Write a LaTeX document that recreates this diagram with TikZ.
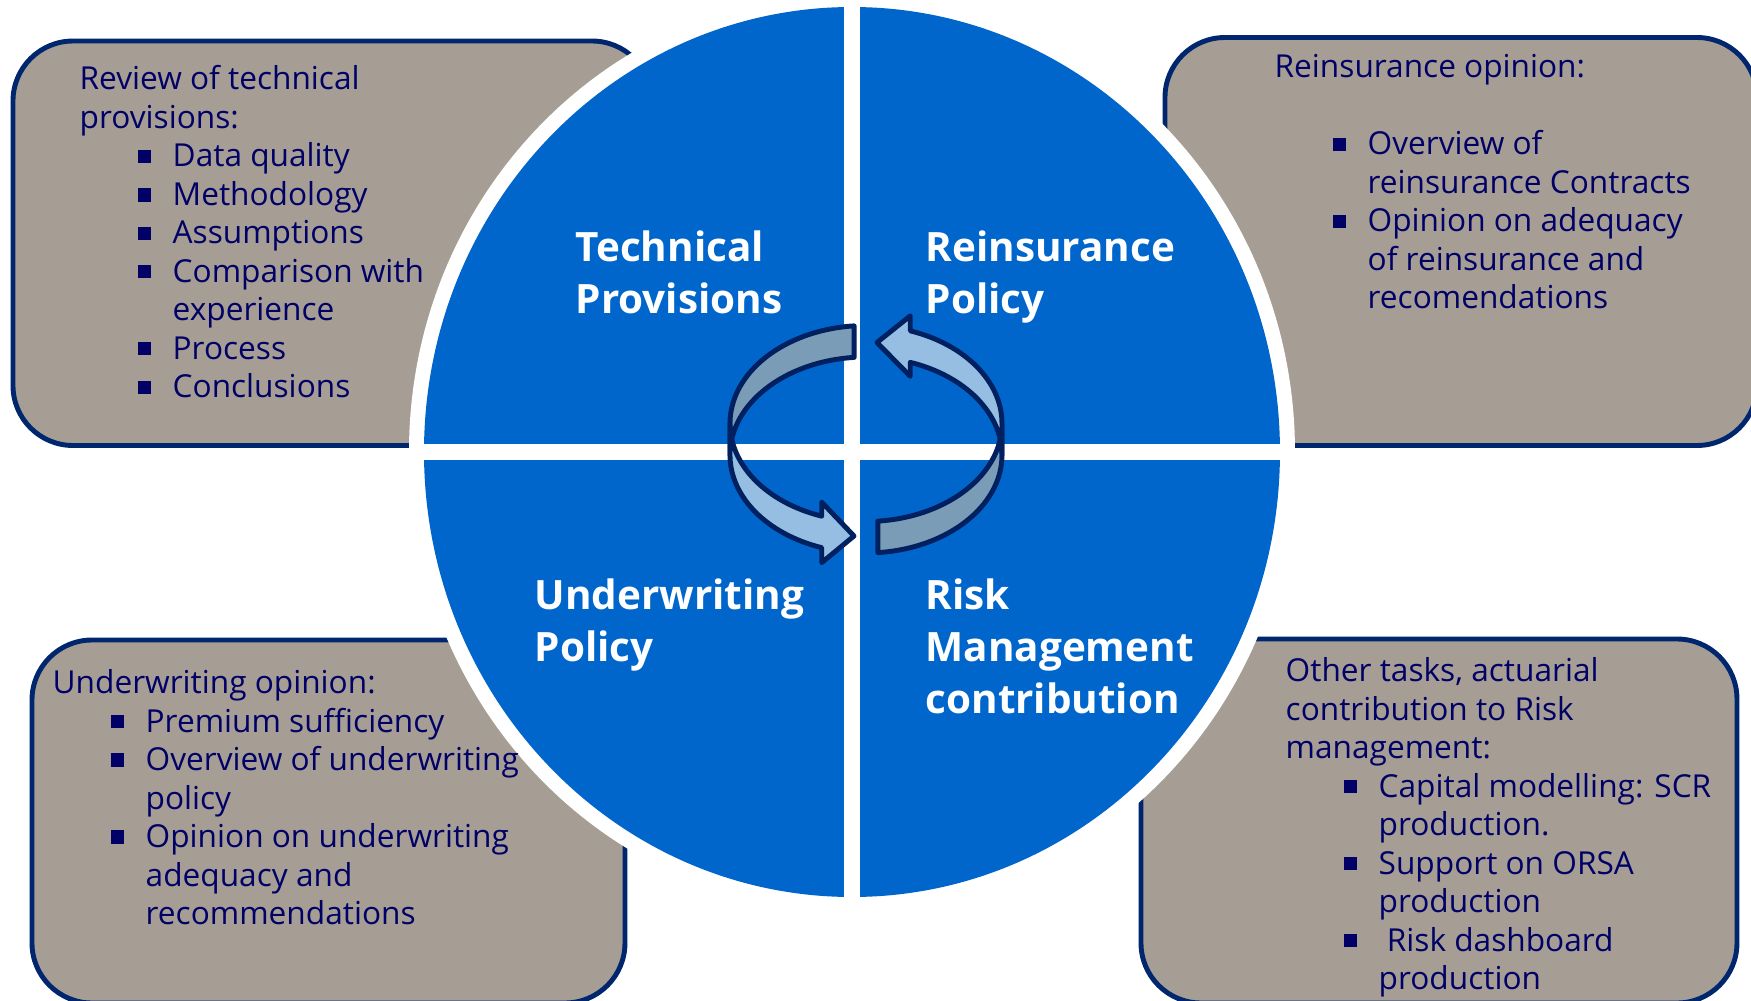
\documentclass[tikz,border=0pt]{standalone}
\usepackage{fontspec}
\setmainfont{Open Sans}
\usetikzlibrary{calc}

\definecolor{discblue}{RGB}{0,102,204}
\definecolor{boxgray}{RGB}{166,158,148}
\definecolor{boxline}{RGB}{0,38,110}
\definecolor{txtnavy}{RGB}{0,0,102}
\definecolor{rblight}{RGB}{149,190,226}
\definecolor{rbdark}{RGB}{123,156,182}
\definecolor{rbline}{RGB}{0,32,96}

% bullet item and continuation line inside a box
\newcommand{\itm}[1]{\hspace*{0.58cm}\makebox[0.35cm][l]{\rule[1.1pt]{3.8pt}{3.8pt}}#1}
\newcommand{\cnt}[1]{\hspace*{0.93cm}#1}

\begin{document}
\begin{tikzpicture}[
    box/.style={draw=boxline, fill=boxgray, line width=1.4pt, rounded corners=0.6cm},
    boxtext/.style={anchor=north west, inner sep=0pt, align=left, text=txtnavy,
        font=\fontsize{9}{10.95}\selectfont},
    title/.style={anchor=north west, inner sep=0pt, align=left, text=white,
        font=\fontsize{11.5}{14.8}\selectfont\bfseries},
    ribbon/.style={draw=rbline, line width=1.4pt, line join=round}]
    \useasboundingbox (-8.52,-5.49) rectangle (8.99,4.52);

    % Boxes behind the disc
    \draw [box] (-8.39,0.065) rectangle (-2.0,4.11);
    \draw [box] (3.13,0.065) rectangle (9.05,4.145);
    \draw [box] (-8.20,-5.51) rectangle (-2.27,-1.88);
    \draw [box] (2.89,-5.51) rectangle (8.85,-1.87);

    % Disc with white rim and white cross
    \fill [white] (0,0) ellipse [x radius=4.43, y radius=4.60];
    \fill [discblue] (0,0) ellipse [x radius=4.28, y radius=4.45];
    \draw [white, line width=0.16cm] (0,-4.5) -- (0,4.5);
    \draw [white, line width=0.16cm] (-4.3,0) -- (4.3,0);

    % Cycle arrows (two shifted ellipses)
    \coordinate (ca) at (0.14,0.285);
    \coordinate (cb) at (0.14,-0.03);
    \coordinate (tipL) at (0.02,-0.84);
    \coordinate (tipR) at (0.25,1.095);
    \draw [ribbon, fill=rbdark] ($(ca)+(95:1.36 and 0.98)$)
        arc [start angle=95, end angle=180, x radius=1.36, y radius=0.98]
        -- ($(cb)+(180:1.36 and 0.98)$)
        arc [start angle=180, end angle=95, x radius=1.36, y radius=0.98] -- cycle;
    \draw [ribbon, fill=rblight] ($(ca)+(180:1.36 and 0.98)$)
        arc [start angle=180, end angle=251, x radius=1.36, y radius=0.98]
        -- ++(0,0.14) -- (tipL) -- ($(cb)+(251:1.36 and 0.98)+(0,-0.15)$)
        -- ($(cb)+(251:1.36 and 0.98)$)
        arc [start angle=251, end angle=180, x radius=1.36, y radius=0.98] -- cycle;
    \draw [ribbon, fill=rbdark] ($(ca)+(275:1.36 and 0.98)$)
        arc [start angle=275, end angle=360, x radius=1.36, y radius=0.98]
        -- ($(cb)+(0:1.36 and 0.98)$)
        arc [start angle=360, end angle=275, x radius=1.36, y radius=0.98] -- cycle;
    \draw [ribbon, fill=rblight] ($(ca)+(0:1.36 and 0.98)$)
        arc [start angle=0, end angle=71, x radius=1.36, y radius=0.98]
        -- ++(0,0.15) -- (tipR) -- ($(cb)+(71:1.36 and 0.98)+(0,-0.14)$)
        -- ($(cb)+(71:1.36 and 0.98)$)
        arc [start angle=71, end angle=0, x radius=1.36, y radius=0.98] -- cycle;

    % Quarter titles
    \node [title] (tp) at (-2.77,2.22) {Technical\\Provisions};
    \node [title] (rp) at (0.73,2.22) {Reinsurance\\Policy};
    \node [title] (up) at (-3.18,-1.26) {Underwriting\\Policy};
    \node [title] (rm) at (0.73,-1.26) {Risk\\Management\\contribution};

    % Box texts
    \node [boxtext] (tpText) at (-7.73,3.87) {Review of technical\\provisions:\\
        \itm{Data quality}\\\itm{Methodology}\\\itm{Assumptions}\\
        \itm{Comparison with}\\\cnt{experience}\\\itm{Process}\\\itm{Conclusions}};
    \node [boxtext] (rpText) at (4.22,3.98) {Reinsurance opinion:\\[10.95pt]
        \itm{Overview of}\\\cnt{reinsurance Contracts}\\
        \itm{Opinion on adequacy}\\\cnt{of reinsurance and}\\\cnt{recomendations}};
    \node [boxtext] (upText) at (-8.00,-2.17) {Underwriting opinion:\\
        \itm{Premium sufficiency}\\\itm{Overview of underwriting}\\\cnt{policy}\\
        \itm{Opinion on underwriting}\\\cnt{adequacy and}\\\cnt{recommendations}};
    \node [boxtext] (rmText) at (4.33,-2.05) {Other tasks, actuarial\\
        contribution to Risk\\management:\\
        \itm{Capital modelling: SCR}\\\cnt{production.}\\
        \itm{Support on ORSA}\\\cnt{production}\\
        \itm{\ Risk dashboard}\\\cnt{production}};
\end{tikzpicture}
\end{document}
